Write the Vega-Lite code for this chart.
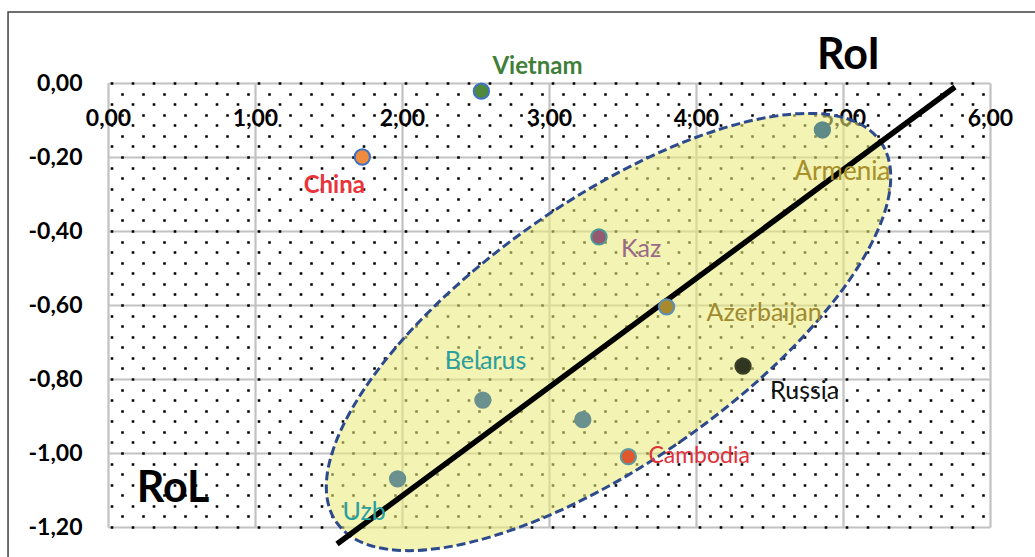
{
  "$schema": "https://vega.github.io/schema/vega-lite/v6.json",
  "width": 882,
  "height": 444,
  "autosize": "none",
  "padding": {"left": 108, "top": 83, "right": 45, "bottom": 30},
  "background": "#ffffff",
  "config": {"view": {"stroke": null}, "font": "Lato"},
  "data": {
    "values": [
      {"country": "Vietnam", "x": 2.54, "y": -0.022},
      {"country": "China", "x": 1.73, "y": -0.2},
      {"country": "Armenia", "x": 4.86, "y": -0.127},
      {"country": "Kaz", "x": 3.34, "y": -0.416},
      {"country": "Azerbaijan", "x": 3.80, "y": -0.605},
      {"country": "Russia", "x": 4.32, "y": -0.765},
      {"country": "Belarus", "x": 2.55, "y": -0.857},
      {"country": "unlabeled", "x": 3.23, "y": -0.91},
      {"country": "Cambodia", "x": 3.54, "y": -1.01},
      {"country": "Uzb", "x": 1.97, "y": -1.07}
    ]
  },
  "resolve": {"axis": {"x": "independent", "y": "independent"}},
  "layer": [
    {
      "data": {"values": [{"region": "cluster"}]},
      "mark": {
        "type": "point",
        "shape": "M1,0C1,0.2179 0.5523,0.3946 0,0.3946C-0.5523,0.3946 -1,0.2179 -1,0C-1,-0.2179 -0.5523,-0.3946 0,-0.3946C0.5523,-0.3946 1,-0.2179 1,0Z",
        "size": 440896,
        "angle": 325,
        "filled": true,
        "fill": "#eaea7c",
        "fillOpacity": 0.58,
        "stroke": "#2c4a8c",
        "strokeOpacity": 1,
        "strokeWidth": 3,
        "strokeDash": [9, 4],
        "opacity": 1
      },
      "encoding": {
        "x": {
          "datum": 3.405, "type": "quantitative",
          "scale": {"domain": [0, 6], "nice": false, "zero": false},
          "axis": {
            "orient": "top", "values": [0, 1, 2, 3, 4, 5, 6], "grid": true, "gridColor": "#c2c2c2", "gridWidth": 2.2,
            "domain": false, "ticks": false, "tickSize": 0, "labelPadding": -35, "labelBaseline": "middle",
            "labelFont": "Lato", "labelFontSize": 23, "labelFontWeight": "bold", "labelColor": "#000000",
            "labelExpr": "replace(replace(format(datum.value, '.2f'), '.', ','), '\u2212', '-')",
            "labelFlush": false, "labelOverlap": false, "labelBound": false, "title": null, "zindex": 0
          }
        },
        "y": {
          "datum": -0.673, "type": "quantitative",
          "scale": {"domain": [-1.2, 0], "nice": false, "zero": false},
          "axis": {
            "orient": "left", "values": [0, -0.2, -0.4, -0.6, -0.8, -1, -1.2], "grid": true, "gridColor": "#c2c2c2", "gridWidth": 2.2,
            "domain": false, "ticks": false, "tickSize": 0, "labelPadding": 26,
            "labelFont": "Lato", "labelFontSize": 23, "labelFontWeight": "bold", "labelColor": "#000000",
            "labelExpr": "replace(replace(format(datum.value, '.2f'), '.', ','), '\u2212', '-')",
            "labelFlush": false, "labelOverlap": false, "labelBound": false, "title": null, "zindex": 0
          }
        }
      }
    },
    {
      "data": {"values": [{"series": "fit"}]},
      "mark": {"type": "rule", "strokeWidth": 5.5, "color": "#000000", "strokeCap": "butt"},
      "encoding": {
        "x": {"datum": 1.558, "type": "quantitative", "axis": null},
        "y": {
          "datum": -1.246, "type": "quantitative",
          "axis": {
            "orient": "left",
            "values": [0, -0.028571, -0.057143, -0.085714, -0.114286, -0.142857, -0.171429, -0.2, -0.228571, -0.257143, -0.285714, -0.314286, -0.342857, -0.371429, -0.4, -0.428571, -0.457143, -0.485714, -0.514286, -0.542857, -0.571429, -0.6, -0.628571, -0.657143, -0.685714, -0.714286, -0.742857, -0.771429, -0.8, -0.828571, -0.857143, -0.885714, -0.914286, -0.942857, -0.971429, -1.0, -1.028571, -1.057143, -1.085714, -1.114286, -1.142857, -1.171429, -1.2],
            "grid": true, "gridColor": "#000000", "gridWidth": 2.6, "gridDash": [2.6, 18.4],
            "gridDashOffset": {"condition": {"test": "round(-datum.value * 35) % 2 == 1", "value": 8.3}, "value": 18.8},
            "labels": false, "ticks": false, "domain": false, "title": null, "zindex": 0
          }
        },
        "x2": {"datum": 5.762},
        "y2": {"datum": -0.011}
      }
    },
    {
      "mark": {"type": "circle", "size": 235, "strokeWidth": 2, "opacity": 1},
      "encoding": {
        "x": {"field": "x", "type": "quantitative", "axis": null},
        "y": {"field": "y", "type": "quantitative", "axis": null},
        "fill": {
          "field": "country", "type": "nominal", "legend": null,
          "scale": {
            "domain": ["Vietnam", "China", "Armenia", "Kaz", "Azerbaijan", "Russia", "Belarus", "unlabeled", "Cambodia", "Uzb"],
            "range": ["#4f8a3c", "#f08a3c", "#5e8a88", "#94596e", "#a8892e", "#2f3520", "#6a918e", "#6a918e", "#e0582e", "#6a918e"]
          }
        },
        "stroke": {
          "field": "country", "type": "nominal", "legend": null,
          "scale": {
            "domain": ["Vietnam", "China", "Armenia", "Kaz", "Azerbaijan", "Russia", "Belarus", "unlabeled", "Cambodia", "Uzb"],
            "range": ["#3f72c4", "#3f72c4", "#5e8a88", "#4a9a9a", "#5b8fb5", "#3a4028", "#6a918e", "#6a918e", "#5a9aa0", "#6a918e"]
          }
        }
      }
    },
    {
      "transform": [{"filter": "datum.country == 'Vietnam'"}],
      "mark": {"type": "text", "align": "left", "baseline": "middle", "dx": 11, "dy": -24, "font": "Lato", "fontSize": 24, "fontWeight": "bold", "color": "#3f7f3a"},
      "encoding": {"x": {"field": "x", "type": "quantitative", "axis": null}, "y": {"field": "y", "type": "quantitative", "axis": null}, "text": {"field": "country"}}
    },
    {
      "transform": [{"filter": "datum.country == 'China'"}],
      "mark": {"type": "text", "align": "center", "baseline": "middle", "dx": -28, "dy": 29, "font": "Lato", "fontSize": 24, "fontWeight": "bold", "color": "#e8343a"},
      "encoding": {"x": {"field": "x", "type": "quantitative", "axis": null}, "y": {"field": "y", "type": "quantitative", "axis": null}, "text": {"field": "country"}}
    },
    {
      "transform": [{"filter": "datum.country == 'Armenia'"}],
      "mark": {"type": "text", "align": "center", "baseline": "middle", "dx": 20, "dy": 42, "font": "Lato", "fontSize": 26, "fontWeight": "normal", "color": "#a8902a"},
      "encoding": {"x": {"field": "x", "type": "quantitative", "axis": null}, "y": {"field": "y", "type": "quantitative", "axis": null}, "text": {"field": "country"}}
    },
    {
      "transform": [{"filter": "datum.country == 'Kaz'"}],
      "mark": {"type": "text", "align": "left", "baseline": "middle", "dx": 22, "dy": 12, "font": "Lato", "fontSize": 25, "fontWeight": "normal", "color": "#9a6a8a"},
      "encoding": {"x": {"field": "x", "type": "quantitative", "axis": null}, "y": {"field": "y", "type": "quantitative", "axis": null}, "text": {"field": "country"}}
    },
    {
      "transform": [{"filter": "datum.country == 'Azerbaijan'"}],
      "mark": {"type": "text", "align": "left", "baseline": "middle", "dx": 40, "dy": 6, "font": "Lato", "fontSize": 25, "fontWeight": "normal", "color": "#a08a30"},
      "encoding": {"x": {"field": "x", "type": "quantitative", "axis": null}, "y": {"field": "y", "type": "quantitative", "axis": null}, "text": {"field": "country"}}
    },
    {
      "transform": [{"filter": "datum.country == 'Russia'"}],
      "mark": {"type": "text", "align": "left", "baseline": "middle", "dx": 27, "dy": 25, "font": "Lato", "fontSize": 25, "fontWeight": "normal", "color": "#111111"},
      "encoding": {"x": {"field": "x", "type": "quantitative", "axis": null}, "y": {"field": "y", "type": "quantitative", "axis": null}, "text": {"field": "country"}}
    },
    {
      "transform": [{"filter": "datum.country == 'Belarus'"}],
      "mark": {"type": "text", "align": "left", "baseline": "middle", "dx": -38, "dy": -39, "font": "Lato", "fontSize": 25, "fontWeight": "normal", "color": "#2aa0a0"},
      "encoding": {"x": {"field": "x", "type": "quantitative", "axis": null}, "y": {"field": "y", "type": "quantitative", "axis": null}, "text": {"field": "country"}}
    },
    {
      "transform": [{"filter": "datum.country == 'Cambodia'"}],
      "mark": {"type": "text", "align": "left", "baseline": "middle", "dx": 20, "dy": -1, "font": "Lato", "fontSize": 23, "fontWeight": "normal", "color": "#e0303a"},
      "encoding": {"x": {"field": "x", "type": "quantitative", "axis": null}, "y": {"field": "y", "type": "quantitative", "axis": null}, "text": {"field": "country"}}
    },
    {
      "transform": [{"filter": "datum.country == 'Uzb'"}],
      "mark": {"type": "text", "align": "left", "baseline": "middle", "dx": -55, "dy": 33, "font": "Lato", "fontSize": 25, "fontWeight": "normal", "color": "#2aa0a0"},
      "encoding": {"x": {"field": "x", "type": "quantitative", "axis": null}, "y": {"field": "y", "type": "quantitative", "axis": null}, "text": {"field": "country"}}
    },
    {
      "data": {"values": [{"text": "RoI"}]},
      "mark": {"type": "text", "align": "center", "baseline": "middle", "font": "Lato", "fontSize": 43, "fontWeight": "bold", "color": "#000000"},
      "encoding": {"x": {"datum": 5.037, "type": "quantitative", "axis": null}, "y": {"datum": 0.073, "type": "quantitative", "axis": null}, "text": {"field": "text"}}
    },
    {
      "data": {"values": [{"text": "RoL"}]},
      "mark": {"type": "text", "align": "center", "baseline": "middle", "font": "Lato", "fontSize": 43, "fontWeight": "bold", "color": "#000000"},
      "encoding": {"x": {"datum": 0.442, "type": "quantitative", "axis": null}, "y": {"datum": -1.097, "type": "quantitative", "axis": null}, "text": {"field": "text"}}
    },
    {
      "data": {"values": [{"frame": "outer"}]},
      "mark": {"type": "rect", "filled": false, "stroke": "#404040", "strokeWidth": 1.5, "fill": null},
      "encoding": {
        "x": {"datum": -0.68, "type": "quantitative", "axis": null},
        "x2": {"datum": 6.4},
        "y": {"datum": 0.192, "type": "quantitative", "axis": null},
        "y2": {"datum": -1.31}
      }
    }
  ]
}
